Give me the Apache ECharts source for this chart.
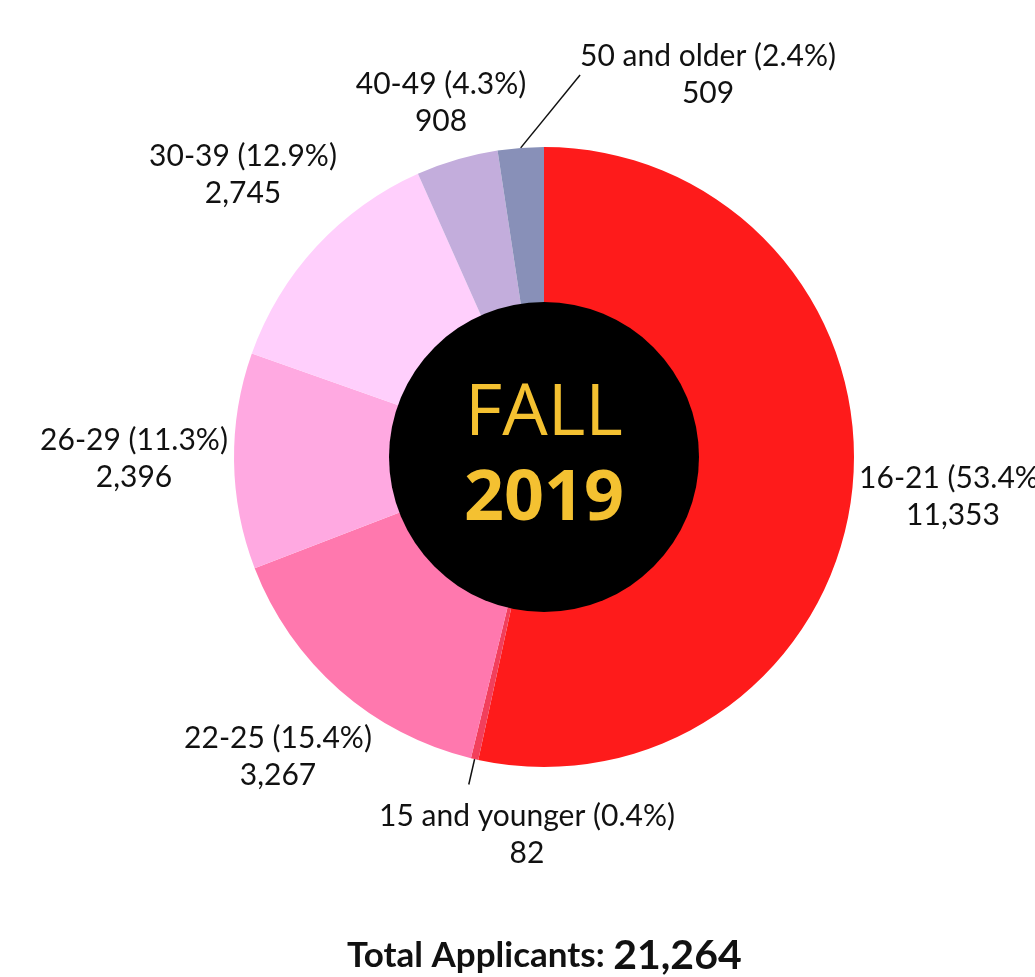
<!DOCTYPE html>
<html>
<head>
<meta charset="utf-8">
<title>Fall 2019 applicants by age</title>
<script src="https://cdn.jsdelivr.net/npm/echarts@6/dist/echarts.min.js"></script>
<style>
html, body { margin: 0; padding: 0; background: #fff; }
#main { width: 1035px; height: 977px; }
</style>
</head>
<body>
<div id="main"></div>
<script>
'use strict';

// age groups, clockwise from 12 o'clock
var ageGroups = ['16-21', '15 and younger', '22-25', '26-29', '30-39', '40-49', '50 and older'];
var applicants = [11353, 82, 3267, 2396, 2745, 908, 509];
var totalApplicants = '21,264';
var centerLines = ['FALL', '2019'];

var sliceColors = ['#fe1b1b', '#f23f5c', '#ff78ae', '#ffa9e1', '#ffcffc', '#c3addc', '#8890b8'];
// label centres (px), same order as ageGroups
var labelPos = [[953, 497], [527, 835], [278, 757], [134, 459], [243, 175], [441, 103], [708, 75]];
var withLeader = [false, true, false, false, false, false, true];

var sum = applicants.reduce(function (a, b) { return a + b; }, 0);

var pieData = ageGroups.map(function (g, i) {
    return {
        name: g,
        value: applicants[i],
        itemStyle: { color: sliceColors[i] },
        labelLine: { show: withLeader[i] }
    };
});

var myChart = echarts.init(document.getElementById('main'));
var option = {
    animation: false,
    title: {
        text: '{a|Total Applicants: }{b|' + totalApplicants + '}',
        left: 342,
        top: 930,
        textStyle: {
            rich: {
                a: { fontFamily: 'Lato', fontWeight: 'bold', fontSize: 35, color: '#111' },
                b: { fontFamily: 'Lato', fontWeight: 'bold', fontSize: 41, color: '#111' }
            }
        }
    },
    series: [{
        type: 'pie',
        center: [544, 457],
        radius: [150, 310],
        startAngle: 90,
        clockwise: true,
        avoidLabelOverlap: false,
        silent: true,
        label: {
            position: 'outside',
            formatter: function (p) {
                return p.name + ' (' + (p.value / sum * 100).toFixed(1) + '%)\n' + p.value.toLocaleString('en-US');
            },
            fontFamily: 'Lato',
            fontSize: 30,
            lineHeight: 37,
            color: '#111'
        },
        labelLine: {
            show: false,
            length: 26,
            length2: 0,
            lineStyle: { color: '#111', width: 1.5 }
        },
        labelLayout: function (p) {
            var pos = labelPos[p.dataIndex];
            var out = { x: pos[0], y: pos[1], align: 'center', verticalAlign: 'middle' };
            if (p.dataIndex === 1) {
                out.labelLinePoints = p.labelLinePoints;
            }
            return out;
        },
        data: pieData
    }, {
        // black disc in the middle
        type: 'pie',
        center: [544, 457],
        radius: [0, 155],
        silent: true,
        label: {
            position: 'center',
            formatter: '{a|' + centerLines[0] + '}\n{b|' + centerLines[1] + '}',
            rich: {
                a: { fontFamily: 'Open Sans', fontSize: 72, color: '#f4c131', lineHeight: 86 },
                b: { fontFamily: 'Open Sans', fontWeight: 'bold', fontSize: 70, color: '#f4c131', lineHeight: 86 }
            }
        },
        labelLine: { show: false },
        data: [{ value: 1, name: 'FALL 2019', itemStyle: { color: '#000' } }]
    }]
};
myChart.setOption(option);
</script>
</body>
</html>
